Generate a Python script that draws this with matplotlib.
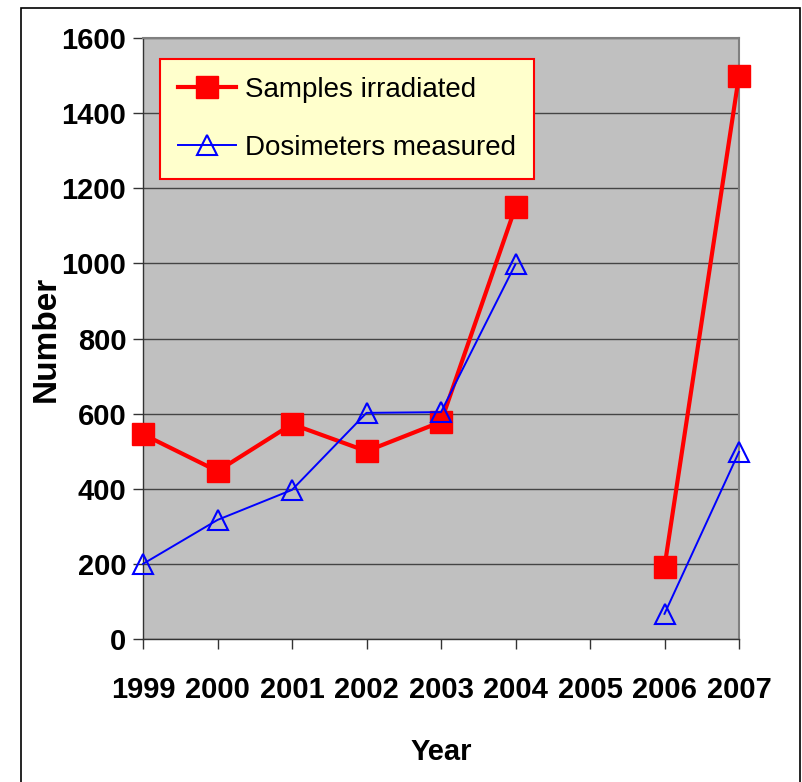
import numpy as np
import matplotlib
matplotlib.use("Agg")
import matplotlib.pyplot as plt
from matplotlib.patches import Rectangle

# data
years = ['1999', '2000', '2001', '2002', '2003', '2004', '2005', '2006', '2007']
samples = [545, 447, 572, 500, 578, 1150, np.nan, 192, 1500]
dosimeters = [200, 317, 397, 602, 604, 998, np.nan, 67, 498]
y_ticks = [0, 200, 400, 600, 800, 1000, 1200, 1400, 1600]

plt.rcParams['font.family'] = ['Liberation Sans', 'DejaVu Sans']

fig = plt.figure(figsize=(8.02, 7.82), dpi=100)
# outer frame (Excel chart border)
fig.patches.append(Rectangle((21 / 802, -0.01), (800 - 21) / 802, (782 - 8) / 782 + 0.01,
                             transform=fig.transFigure, fill=False,
                             edgecolor='black', linewidth=1.2))

ax = fig.add_axes([143 / 802, 1 - 639 / 782, (739 - 143) / 802, (639 - 38) / 782])
ax.set_facecolor('#C0C0C0')

x = np.arange(len(years))
ax.plot(x, samples, color='red', lw=3, marker='s', ms=15.5,
        mfc='red', mec='red', label='Samples irradiated', zorder=3, clip_on=False)
ax.plot(x, dosimeters, color='blue', lw=1.4, marker='^', ms=15,
        mfc='none', mec='blue', mew=1.5, label='Dosimeters measured', zorder=4,
        clip_on=False)

ax.set_xlim(0, len(years) - 1)
ax.set_ylim(0, 1600)
ax.set_xticks(x)
ax.set_xticklabels(years, fontsize=21, fontweight='bold')
ax.set_yticks(y_ticks)
ax.set_yticklabels([str(v) for v in y_ticks], fontsize=21, fontweight='bold')
ax.tick_params(axis='both', direction='out', length=7, width=1, color='#333333')
ax.tick_params(axis='x', pad=20)
ax.tick_params(axis='y', pad=5)

ax.grid(axis='y', color='#444444', lw=1)
ax.set_axisbelow(True)
for s in ['top', 'right']:
    ax.spines[s].set_color('#808080')
    ax.spines[s].set_linewidth(1.5)
for s in ['left', 'bottom']:
    ax.spines[s].set_color('#333333')
    ax.spines[s].set_linewidth(1)

ax.set_xlabel('Year', fontsize=21, fontweight='bold', labelpad=24)
ax.set_ylabel('Number', fontsize=24, fontweight='bold', labelpad=0)

leg = ax.legend(loc='upper left', bbox_to_anchor=(160 / 802, 1 - 59 / 782),
                bbox_transform=fig.transFigure, fontsize=20, frameon=True,
                fancybox=False, framealpha=1, handlelength=2.1,
                borderpad=0.65, labelspacing=1.15, handletextpad=0.3,
                borderaxespad=0)
leg.get_frame().set_facecolor('#FFFFCC')
leg.get_frame().set_edgecolor('red')
leg.get_frame().set_linewidth(1.5)

fig.savefig('out.png', dpi=100)
